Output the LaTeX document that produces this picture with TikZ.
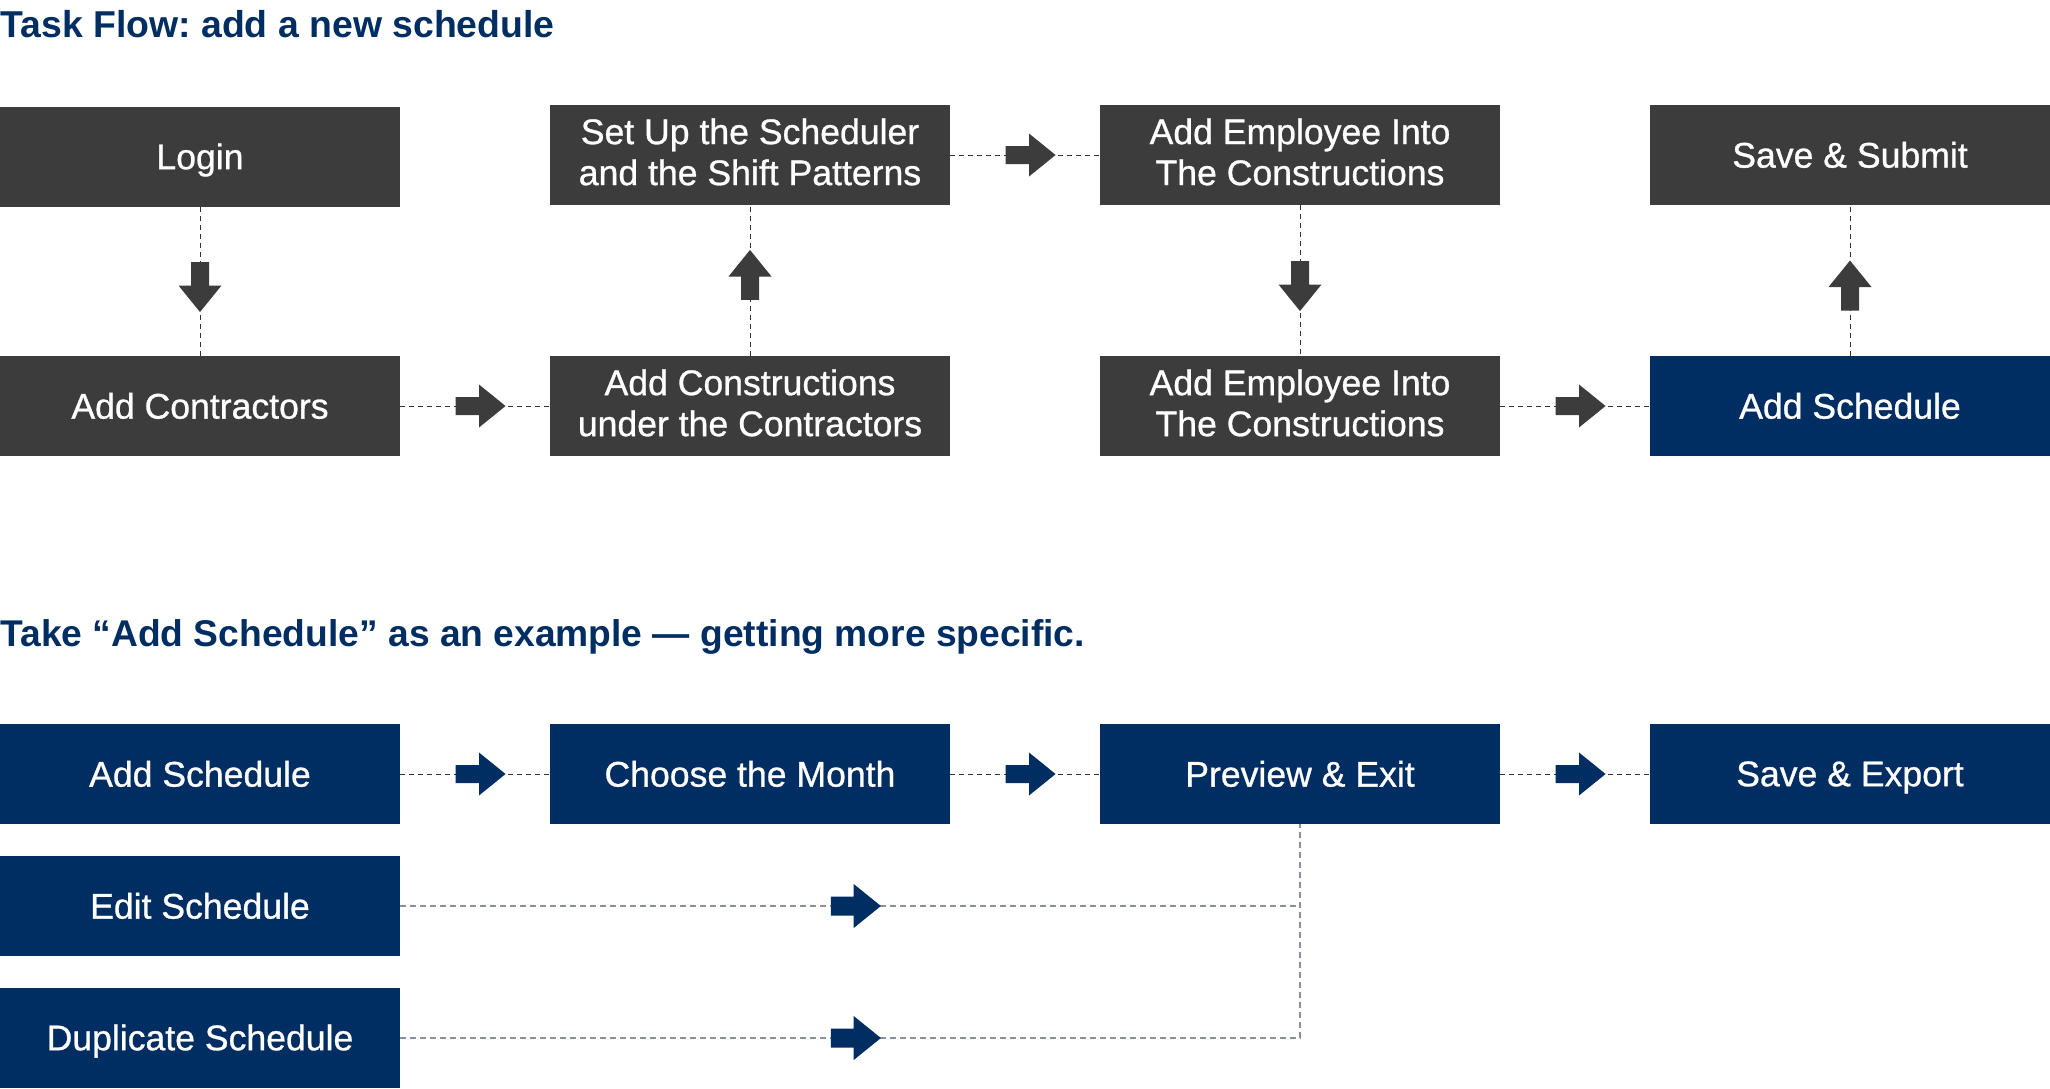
\documentclass[tikz,border=0pt]{standalone}
\usepackage{fontspec}
\setmainfont{Liberation Sans}
\newfontfamily\medfont[FakeBold=0.8]{Liberation Sans}
\usetikzlibrary{positioning,shapes.arrows}
\definecolor{boxgray}{HTML}{3C3C3C}
\definecolor{navy}{HTML}{002D62}
\definecolor{linegray}{HTML}{8A909C}
\newcommand\boxstrut{\rule[-3.3pt]{0pt}{19.2pt}}
\frenchspacing

\begin{document}
\begin{tikzpicture}[
  node distance = 75.5pt and 75pt,
  task/.style = {rectangle, fill=boxgray, text=white, align=center,
                 minimum width=200pt, minimum height=50pt, inner sep=0pt, outer sep=0pt,
                 font=\medfont\fontsize{17.8pt}{20.5pt}\selectfont,
                 execute at begin node=\boxstrut, execute at end node=\boxstrut},
  sched/.style = {task, fill=navy},
  heading/.style = {inner sep=0pt, text=navy, font=\bfseries\fontsize{18.7pt}{22pt}\selectfont},
  link/.style = {draw=black!80, line width=0.5pt, dash pattern=on 2.5pt off 2pt},
  soft/.style = {draw=linegray, line width=1pt, dash pattern=on 3pt off 2pt},
  fat/.style = {single arrow, fill=boxgray, inner sep=4.25pt, minimum height=25pt,
                single arrow head extend=6.25pt, single arrow tip angle=78},
  fatb/.style = {fat, fill=navy}
]
\useasboundingbox (0,0) rectangle (1025pt,-544pt);

% task flow
\node[heading, anchor=base west] (head1) at (0,-18.5pt) {Task Flow: add a new schedule};

\node[task, anchor=north west] (login) at (0,-53.5pt) {Login};
\node[task, below=74.5pt of login] (contr) {Add Contractors};
\node[task, right=of contr]  (constr) {Add Constructions\\under the Contractors};
\node[task, above=of constr] (setup)  {Set Up the Scheduler\\and the Shift Patterns};
\node[task, right=of setup]  (emptop) {Add Employee Into\\The Constructions};
\node[task, below=of emptop] (empbot) {Add Employee Into\\The Constructions};
\node[sched, right=of empbot] (add)   {Add Schedule};
\node[task, above=of add]    (save)   {Save \& Submit};

\draw[link] (login)  -- node[fat, shape border rotate=270] {} (contr);
\draw[link] (contr)  -- node[fat] {} (constr);
\draw[link] (constr) -- node[fat, shape border rotate=90] {} (setup);
\draw[link] (setup)  -- node[fat] {} (emptop);
\draw[link] (emptop) -- node[fat, shape border rotate=270] {} (empbot);
\draw[link] (empbot) -- node[fat] {} (add);
\draw[link] (add)    -- node[fat, pos=.43, shape border rotate=90] {} (save);

% add schedule in detail
\node[heading, anchor=base west, font=\bfseries\fontsize{18.6pt}{21pt}\selectfont] (head2) at (0,-323pt)
  {Take “Add Schedule” as an example — getting more specific.};

\node[sched, anchor=north west] (add2) at (0,-362pt) {Add Schedule};
\node[sched, right=of add2]  (month)  {Choose the Month};
\node[sched, right=of month] (prev)   {Preview \& Exit};
\node[sched, right=of prev]  (export) {Save \& Export};
\node[sched, below=16pt of add2] (edit) {Edit Schedule};
\node[sched, below=16pt of edit] (dup)  {Duplicate Schedule};

\draw[link] (add2)  -- node[fatb] {} (month);
\draw[link] (month) -- node[fatb] {} (prev);
\draw[link] (prev)  -- node[fatb] {} (export);
\draw[soft] (edit)  -- node[fatb] {} (edit -| prev);
\draw[soft] (dup)   -| node[fatb, pos=.25] {} (prev);
\end{tikzpicture}
\end{document}
